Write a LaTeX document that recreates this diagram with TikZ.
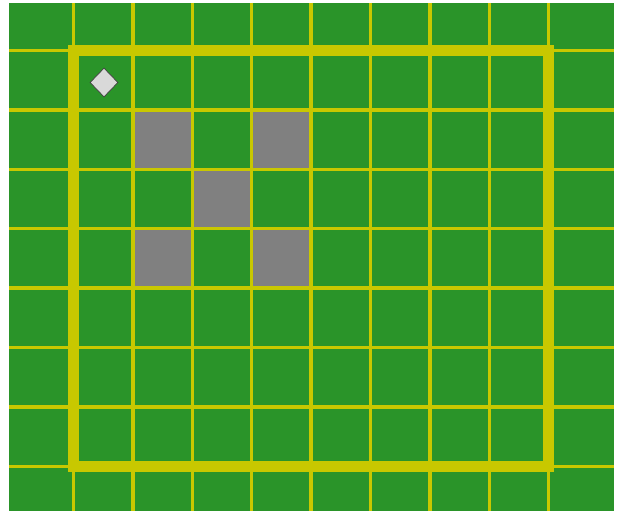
\documentclass[tikz,border=0pt]{standalone}
\usetikzlibrary{shapes.geometric}
\definecolor{turf}{HTML}{2A9429}
\definecolor{fence}{HTML}{C8C800}
\definecolor{wall}{HTML}{808080}
\definecolor{token}{HTML}{D9D9D9}
\tikzset{
  gridline/.style={draw=fence,line width=3.5pt},
  border/.style={draw=fence,line width=11pt},
  block/.style={fill=wall},
  agent/.style={diamond,draw=black!75,fill=token,line width=.7pt,
    minimum width=28pt,minimum height=29pt,inner sep=0pt}}

\begin{document}
\begin{tikzpicture}[x=1pt,y=-1pt]
\useasboundingbox (0,0) rectangle (623,511);
\fill[turf] (9,3) rectangle (614,511);
% blocked cells
\foreach \c/\r in {1/1,3/1,2/2,1/3,3/3}
  \fill[block] ({73.5+59.4*\c},{50.5+59.4*\r}) rectangle ++(59.4,59.4);
% thin lines run across the whole field
\foreach \k in {0,...,8}
  \draw[gridline] ({73.5+59.4*\k},3) -- ({73.5+59.4*\k},511);
\foreach \k in {0,...,7}
  \draw[gridline] (9,{50.5+59.4*\k}) -- (614,{50.5+59.4*\k});
\draw[border] (73.5,50.5) rectangle (548.5,466.5);
\node[agent] (start) at (104,82.5) {};
\end{tikzpicture}
\end{document}
